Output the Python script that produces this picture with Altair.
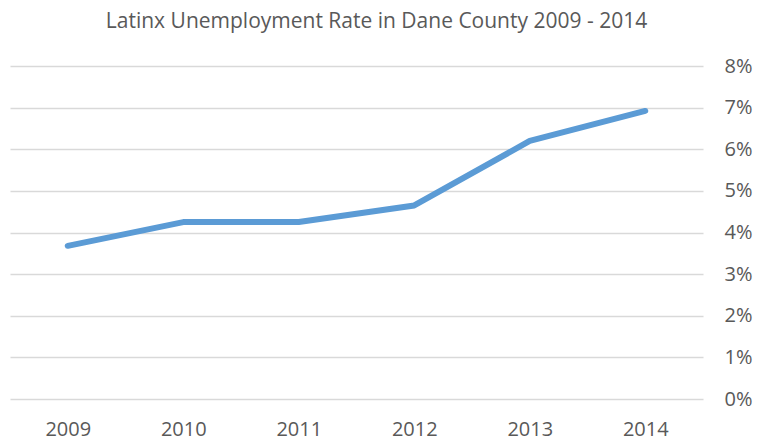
import altair as alt
import pandas as pd

years = ["2009", "2010", "2011", "2012", "2013", "2014"]
rates = [0.0368, 0.0425, 0.0425, 0.0465, 0.062, 0.0692]

df = pd.DataFrame({"year": years, "rate": rates})

FONT = "Open Sans"
TEXT = "#595959"

chart = alt.Chart(df).mark_line(
    color="#5B9BD5", strokeWidth=6, strokeCap="round", strokeJoin="round"
).encode(
    x=alt.X("year:N", sort=years, scale=alt.Scale(padding=0.5),
            axis=alt.Axis(title=None, labelAngle=0, ticks=False, domain=False,
                          grid=False, labelPadding=20, labelFontSize=20,
                          labelColor=TEXT, labelFont=FONT)),
    y=alt.Y("rate:Q", scale=alt.Scale(domain=[0, 0.08]),
            axis=alt.Axis(title=None, orient="right", format=".0%",
                          values=[0, 0.01, 0.02, 0.03, 0.04, 0.05, 0.06, 0.07, 0.08],
                          ticks=False, domain=False, grid=True, gridColor="#D9D9D9",
                          gridWidth=1.5, labelPadding=21, labelFontSize=20,
                          labelColor=TEXT, labelFont=FONT, labelAlign="left")),
).properties(
    width=693,
    height=333,
    title=alt.TitleParams(
        "Latinx Unemployment Rate in Dane County 2009 - 2014",
        font=FONT, fontSize=21, fontWeight="normal", color=TEXT,
        anchor="middle", dx=20, offset=24,
    ),
    autosize=alt.AutoSizeParams(type="none"),
    padding={"left": 2, "top": 58, "right": 50, "bottom": 41},
).configure(background="white").configure_view(stroke=None)

chart.save("out.html", embed_options={"renderer": "svg", "actions": False})
